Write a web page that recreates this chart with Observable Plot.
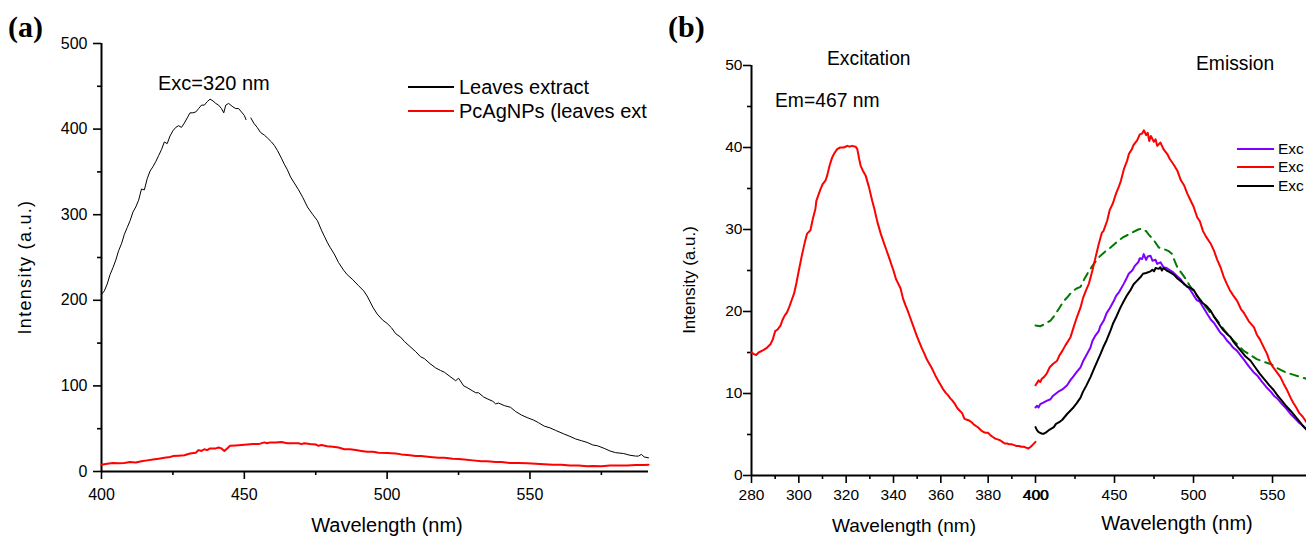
<!DOCTYPE html>
<html>
<head>
<meta charset="utf-8">
<script src="https://cdn.jsdelivr.net/npm/d3@7"></script>
<script src="https://cdn.jsdelivr.net/npm/@observablehq/plot@0.6"></script>
<style>
  html, body { margin: 0; padding: 0; background: #fff; }
  #root { position: relative; width: 1306px; height: 536px; overflow: hidden; background: #fff; font-family: "Liberation Sans", Arial, sans-serif; color: #000; }
  .pane { position: absolute; top: 0; }
  .t { position: absolute; line-height: 1; white-space: nowrap; }
</style>
</head>
<body>
<div id="root">
  <div id="pa" class="pane" style="left:0px"></div>
  <div id="pb" class="pane" style="left:660px"></div>
</div>
<script>
// ---------- Panel (a): fluorescence emission, Exc = 320 nm ----------
const aXTicks = [400, 450, 500, 550];
const aXMinor = [425, 475, 525, 575];
const aYTicks = [0, 100, 200, 300, 400, 500];
const aYMinor = [50, 150, 250, 350, 450];
const aSeriesNames = ["Leaves extract", "PcAgNPs (leaves ext"];

const leavesExtract = [[400,207],[401,211],[402,219],[403,230],[404,238],[405,247],[406,258],[407,266],[408,277],[409,285],[410,293],[411,303],[412,309],[413,317],[414,330],[415,329],[416,342],[417,351],[418,356],[419,362],[420,369],[421,376],[422,385],[423,383],[424,392],[425,398],[426,402],[427,404],[428,402],[429,407],[430,413],[431,419],[432,419],[433,420],[434,424],[435,428],[436,428],[437,432],[438,435],[439,433],[440,430],[441,428],[442,424],[442.8,419],[443.5,428],[444.5,430],[446,426],[447,424],[448,424],[449,420],[450,416],[450.6,411],[451.5,NaN],[452.3,413],[453.3,407],[454.5,402],[455.7,396],[457,393],[458,390],[459.5,385],[460.5,381],[461.6,375],[463,366],[464,359],[465,353],[466.2,344],[467.5,337],[469,329],[470.5,320],[472.1,309],[474,300],[475.6,293],[477,282],[478,275],[479,268],[480,262],[481.5,254],[483,244],[484.8,235],[486,230],[488,224],[490,217],[491.8,211],[493,205],[495,192],[496.5,184],[498.4,177],[500,173],[501.5,168],[503,161],[504.7,157],[506,152],[508,146],[510,140],[511.7,134],[513,132],[515,126],[517,121],[518.7,118],[520,116],[522,111],[524,106],[525,109],[526.8,100],[528,98],[530,94],[531,92],[532,92],[533.8,87],[535,85],[537,82],[538,79],[539,80],[541,77],[543.2,75],[545,70],[547,66],[549,63],[551.3,60],[553,57],[555,53],[557,51],[559,48],[561.8,44],[564,41],[566,38],[568,36],[570,34],[572,31],[573.7,30],[576,27],[578,24],[580,22],[582.8,21],[585,19],[587,18],[588,18],[589,20],[590,17],[591.5,16]];

const pcAgNPs = [[400,8],[402,9],[404,10],[406,9.5],[408,10],[410,11],[412,10.5],[414,12],[416,13],[418,14],[420,15],[422,16],[424,17],[425,18],[427,18.5],[429,19],[431,21],[433,22],[434,25],[435,24],[436,26],[437,25],[438,27],[440,27],[441,28],[442,27],[443,24],[444,27],[445,30],[447,30.5],[449,31],[451,31.5],[453,32],[455,32],[457,34],[458,33],[459,34],[461,34],[463,34.5],[465,33],[467,33],[469,33],[470,32],[471,33],[473,32],[475,31.5],[476,30],[477,31],[479,29.5],[481,29],[483,28],[485,26],[487,26],[489,25],[491,24],[493,23],[495,23],[497,22],[500,21.5],[503,21],[505,20],[508,19],[510,18],[512,18],[515,17],[518,16],[520,16],[523,15],[525,14.5],[527,14],[530,13],[533,12],[535,12],[538,11],[540,11],[543,10],[546,10],[549,9.5],[552,9],[555,8.5],[558,8],[561,8],[564,7],[567,7],[570,6],[572,6.5],[575,6],[578,7],[581,7],[584,7],[587,7.5],[590,7.5],[591.5,8]];

// ---------- Panel (b): excitation (Em = 467 nm) and emission spectra ----------
const bXTicks = [280, 300, 320, 340, 360, 380, 400, 450, 500, 550];
const bXMinor = [290, 310, 330, 350, 370, 390, 425, 475, 525];
const bYTicks = [0, 10, 20, 30, 40, 50];
const bYMinor = [5, 15, 25, 35, 45];
const bLegendNames = ["Exc", "Exc", "Exc"];

const excitation = [[280,15.0],[281,14.8],[282,14.7],[283,15.0],[285,15.3],[286.6,15.6],[288,16.0],[289,16.6],[290,17.6],[291,17.8],[292.3,18.3],[293,18.9],[294,19.5],[295,19.9],[296,20.6],[297,21.4],[298,22.2],[299,23.5],[300,25.0],[301.4,27.0],[302.5,28.4],[303.5,29.5],[304.9,29.9],[306,31.4],[307,32.5],[307.4,33.5],[309,34.8],[310,35.5],[311.3,36.0],[312,36.6],[313,37.8],[314.1,38.8],[315,39.3],[316.2,39.8],[317.5,40.0],[319,40.0],[320.5,40.2],[321.5,40.1],[322.5,40.2],[324,40.1],[324.7,39.8],[325.5,38.6],[326.1,37.8],[327,37.2],[328.2,36.6],[329.6,35.2],[331,33.5],[332,32.4],[333.2,30.9],[334.6,29.5],[336,28.3],[337,27.5],[338.1,26.6],[339.5,25.4],[340,25.0],[341,24.0],[342,23.4],[343,22.8],[344,21.6],[345,20.8],[346,20.1],[347,19.3],[348,18.5],[349,17.7],[350,16.9],[351,16.2],[352,15.5],[353,14.9],[354,14.2],[355,13.7],[356,13.2],[357,12.6],[358,12.0],[359,11.5],[360,11.0],[361,10.5],[362,10.1],[363,9.8],[364,9.4],[365,9.1],[366,8.7],[367,8.2],[368,7.9],[369,7.6],[370,6.9],[371,6.8],[372,6.7],[373,6.5],[374,6.2],[375,6.0],[376,5.8],[377,5.5],[378,5.3],[379,5.2],[380,5.2],[381,4.9],[382,4.7],[383,4.5],[384,4.4],[385,4.3],[386,4.1],[387,3.9],[388,3.9],[389,3.8],[390,3.8],[391,3.7],[392,3.6],[393,3.6],[394,3.5],[395,3.5],[396,3.4],[397,3.3],[398,3.5],[399,3.8],[400,4.1]];

const emissionRed = [[400,11.0],[401,11.3],[402,11.6],[403,11.4],[404,11.8],[405.3,12.0],[407,12.4],[409,13.2],[411,13.6],[413.7,14.0],[415,14.6],[417,15.2],[419,15.9],[420,16.2],[422.2,16.9],[424,18.0],[426,19.2],[428.5,20.5],[430,21.6],[432,22.6],[433.8,23.4],[436,25.0],[438,26.6],[440,28.2],[442,29.6],[443,29.8],[445.4,31.1],[447,32.4],[449,33.2],[451,34.4],[452.7,35.2],[454,35.9],[456,37.4],[458,38.4],[459.1,39.2],[461,39.8],[462,40.3],[464.4,40.9],[466,41.6],[467.5,41.7],[468.6,42.1],[470,41.5],[471,41.8],[472,40.8],[473,41.4],[474.9,40.7],[476,41.0],[477,40.2],[479.1,40.6],[481,39.8],[483.4,39.2],[485,38.6],[487.5,37.9],[489.7,37.2],[492,36.0],[494,35.4],[496,34.4],[498,33.6],[500,32.8],[502.3,31.5],[504,31.0],[506,29.8],[508,29.1],[510.8,28.3],[513,27.4],[515,26.3],[517.1,25.4],[519.2,24.2],[521,23.4],[523,22.6],[525,22.0],[527.6,21.3],[530,20.3],[532,19.8],[535,18.8],[538.2,18.1],[540,17.2],[542,16.6],[544,15.8],[546.6,14.8],[548,14.0],[550,13.3],[552,12.8],[555,12.0],[557,11.2],[559,10.5],[561.4,9.5],[563,8.9],[565,8.3],[567,7.6],[569,7.2],[571.5,6.5]];

const emissionPurple = [[400,8.3],[401,8.5],[402,8.3],[403,8.7],[405,8.9],[407,9.1],[409.5,9.3],[411,9.7],[413,10.0],[415,10.3],[417,10.5],[420,11.0],[422,11.6],[424,12.1],[426,12.6],[428.5,13.2],[430,13.9],[432,14.6],[434.8,15.6],[436,16.4],[438,17.1],[440,17.6],[441,18.2],[443.2,18.9],[445,19.8],[447,20.4],[449.6,21.3],[451,21.9],[453,22.4],[455.9,23.4],[457,23.8],[459,24.6],[461.2,25.0],[463,25.6],[465,26.0],[466,26.5],[467.5,26.4],[468.5,27.0],[470,26.3],[471,26.7],[472.8,26.8],[474,26.2],[476,26.3],[477,25.8],[479.1,26.0],[481,25.4],[483,25.3],[485.4,25.0],[487,24.8],[489.7,24.3],[492,23.9],[494,23.3],[496,23.1],[498.1,22.6],[500,22.0],[502,21.4],[504,21.2],[506.5,20.4],[509,19.6],[511,19.0],[513,18.6],[515,18.0],[517,17.4],[519.2,17.0],[521,16.5],[523,16.1],[525,15.6],[527.6,15.2],[530,14.6],[532,14.1],[535,13.3],[538,12.6],[540.3,12.2],[543,11.5],[546,10.8],[549,10.2],[551,9.7],[553,9.4],[556,8.7],[559,8.1],[561.4,7.5],[564,7.0],[567,6.4],[569,6.1],[571.5,5.6]];

const emissionBlack = [[400,5.9],[401,5.5],[402,5.3],[403,5.2],[404,5.1],[405.3,5.1],[407,5.3],[409,5.6],[411.6,5.9],[413,6.3],[415,6.5],[417,6.8],[420,7.5],[422,7.9],[424,8.3],[426,8.8],[428.5,9.5],[430,10.2],[432,10.9],[434.8,12.0],[437,13.0],[439,13.9],[441.1,14.8],[443,15.7],[445,16.5],[447.5,17.7],[449,18.5],[451,19.3],[453.8,20.5],[456,21.3],[458,22.0],[460.1,22.6],[462,23.3],[464,23.7],[466.5,24.2],[468,24.6],[470,24.7],[472.8,24.9],[474,25.1],[475,24.9],[476,25.3],[478,25.2],[479,25.4],[480,25.0],[481,25.3],[483,25.0],[485,24.8],[487.5,24.5],[490,24.0],[492,23.7],[494,23.4],[496,23.0],[498,22.9],[500.2,22.6],[502,22.0],[504,21.4],[506,21.0],[508,20.7],[510.8,20.1],[513,19.4],[515,18.8],[517,18.2],[519,17.7],[521,17.3],[523.4,16.9],[525,16.4],[527,15.9],[530,15.2],[533,14.5],[536.1,14.0],[539,13.2],[542,12.4],[545,11.7],[548,11.0],[550.8,10.4],[553,9.8],[556,9.1],[558,8.6],[561.4,7.9],[564,7.3],[567,6.6],[569,6.1],[571.5,5.6]];

const emissionGreenDash = [[400,18.3],[403,18.2],[406,18.5],[409.5,18.9],[412,19.5],[415,20.4],[418,21.3],[420,21.7],[423,22.4],[426,22.8],[428.5,23.0],[431,24.0],[434,25.0],[436.9,25.8],[440,26.6],[444,27.3],[447.5,27.8],[451,28.4],[455,29.0],[458,29.3],[462,29.7],[465,30.0],[467.5,30.1],[470,29.8],[472,29.3],[474.9,28.7],[478,27.8],[481.2,27.6],[484,27.4],[486.5,27.0],[488,26.2],[489.7,25.4],[492,24.8],[495,24.0],[498.1,23.0],[502,22.0],[506,21.0],[510,20.0],[515,18.9],[520,17.6],[525,16.5],[531.8,15.2],[536,14.7],[540,14.2],[544,13.9],[548.7,13.6],[553,13.1],[558,12.6],[563,12.3],[567.7,12.0],[571.5,11.8]];

const X = d => d[0], Y = d => d[1];
const blank = () => "";
const FONT = "'Liberation Sans', Arial, sans-serif";

// ---------- build panel (a) ----------
const plotA = Plot.plot({
  width: 660, height: 536,
  marginLeft: 101, marginRight: 12, marginTop: 43, marginBottom: 65,
  style: {fontFamily: FONT, fontSize: "16px", color: "#000", background: "transparent", overflow: "visible"},
  x: {domain: [400, 591.5]},
  y: {domain: [0, 500]},
  marks: [
    Plot.axisX({ticks: aXTicks, tickSize: 8, tickPadding: 9, strokeWidth: 1.6, label: null}),
    Plot.axisX({ticks: aXMinor, tickSize: 4, tickFormat: blank, strokeWidth: 1.6, label: null}),
    Plot.axisY({ticks: aYTicks, tickSize: 8, tickPadding: 6, strokeWidth: 1.6, label: null}),
    Plot.axisY({ticks: aYMinor, tickSize: 4, tickFormat: blank, strokeWidth: 1.6, label: null}),
    Plot.ruleX([400], {strokeWidth: 2}),
    Plot.ruleY([0], {strokeWidth: 2}),
    Plot.line(pcAgNPs, {x: X, y: Y, stroke: "#ff0000", strokeWidth: 2}),
    Plot.line(leavesExtract, {x: X, y: Y, stroke: "#000", strokeWidth: 1})
  ]
});
document.getElementById("pa").append(plotA);

// ---------- build panel (b) (broken wavelength axis) ----------
const plotB = Plot.plot({
  width: 646, height: 536,
  marginLeft: 91, marginRight: 0, marginTop: 65, marginBottom: 61,
  style: {fontFamily: FONT, fontSize: "15.5px", color: "#000", background: "transparent"},
  x: {type: "linear", domain: [280, 400, 571.5], range: [91, 375, 646]},
  y: {domain: [0, 50]},
  marks: [
    Plot.axisX({ticks: bXTicks, tickSize: 8, tickPadding: 5, strokeWidth: 1.6, label: null}),
    Plot.axisX({ticks: [400], tickSize: 0, tickPadding: 13, dx: 0.8, label: null}),
    Plot.axisX({ticks: bXMinor, tickSize: 4, tickFormat: blank, strokeWidth: 1.6, label: null}),
    Plot.axisY({ticks: bYTicks, tickSize: 8, tickPadding: 1, strokeWidth: 1.6, label: null}),
    Plot.axisY({ticks: bYMinor, tickSize: 4, tickFormat: blank, strokeWidth: 1.6, label: null}),
    Plot.ruleX([280], {strokeWidth: 2}),
    Plot.ruleY([0], {strokeWidth: 2}),
    Plot.line(emissionGreenDash, {x: X, y: Y, stroke: "#007a00", strokeWidth: 2, strokeDasharray: "8,6"}),
    Plot.line(excitation, {x: X, y: Y, stroke: "#ff0000", strokeWidth: 2}),
    Plot.line(emissionRed, {x: X, y: Y, stroke: "#ff0000", strokeWidth: 2}),
    Plot.line(emissionPurple, {x: X, y: Y, stroke: "#7f00ff", strokeWidth: 2}),
    Plot.line(emissionBlack, {x: X, y: Y, stroke: "#000", strokeWidth: 2})
  ]
});
document.getElementById("pb").append(plotB);

// ---------- texts, titles and legends ----------
const root = document.getElementById("root");
function txt(s, x, y, size, anchor = "start", extra = {}) {
  const d = document.createElement("div");
  d.className = "t";
  d.textContent = s;
  d.style.left = x + "px";
  d.style.top = y + "px";
  d.style.fontSize = size + "px";
  const tx = anchor === "middle" ? "-50%" : anchor === "end" ? "-100%" : "0";
  d.style.transform = extra.rotate
    ? `translate(-50%, -50%) rotate(${extra.rotate}deg)`
    : `translate(${tx}, -50%)`;
  for (const k in extra) if (k !== "rotate") d.style[k] = extra[k];
  root.append(d);
  return d;
}
function swatch(x1, x2, y, color, w) {
  const d = document.createElement("div");
  d.style.position = "absolute";
  d.style.left = x1 + "px";
  d.style.width = (x2 - x1) + "px";
  d.style.top = (y - w / 2) + "px";
  d.style.height = w + "px";
  d.style.background = color;
  root.append(d);
}

// panel labels
txt("(a)", 8, 27, 30, "start", {fontFamily: "'Liberation Serif', 'Times New Roman', serif", fontWeight: "bold"});
txt("(b)", 668, 27, 30, "start", {fontFamily: "'Liberation Serif', 'Times New Roman', serif", fontWeight: "bold"});

// panel (a)
txt("Exc=320 nm", 158, 83, 20);
swatch(408, 454, 87, "#000", 1.3);
txt(aSeriesNames[0], 459, 86.5, 20);
swatch(408, 454, 111, "#ff0000", 2.2);
txt(aSeriesNames[1], 459, 110.5, 20);
txt("Intensity (a.u.)", 25, 267, 18, "middle", {rotate: -90, letterSpacing: "1.3px"});
txt("Wavelength (nm)", 387, 524.5, 20, "middle");

// panel (b)
txt("Excitation", 827, 59, 19.3);
txt("Em=467 nm", 775, 100.5, 19.3);
txt("Emission", 1196, 63.5, 19.3);
const bLegendColors = ["#7f00ff", "#ff0000", "#000"];
const bLegendY = [148.5, 167.3, 186];
bLegendNames.forEach((n, i) => {
  swatch(1237, 1274, bLegendY[i], bLegendColors[i], 2);
  txt(n, 1278, bLegendY[i], 15.5);
});
txt("Intensity (a.u.)", 689, 280, 17, "middle", {rotate: -90});
txt("Wavelength (nm)", 904, 525, 19, "middle");
txt("Wavelength (nm)", 1177, 523, 20, "middle");
</script>
</body>
</html>
